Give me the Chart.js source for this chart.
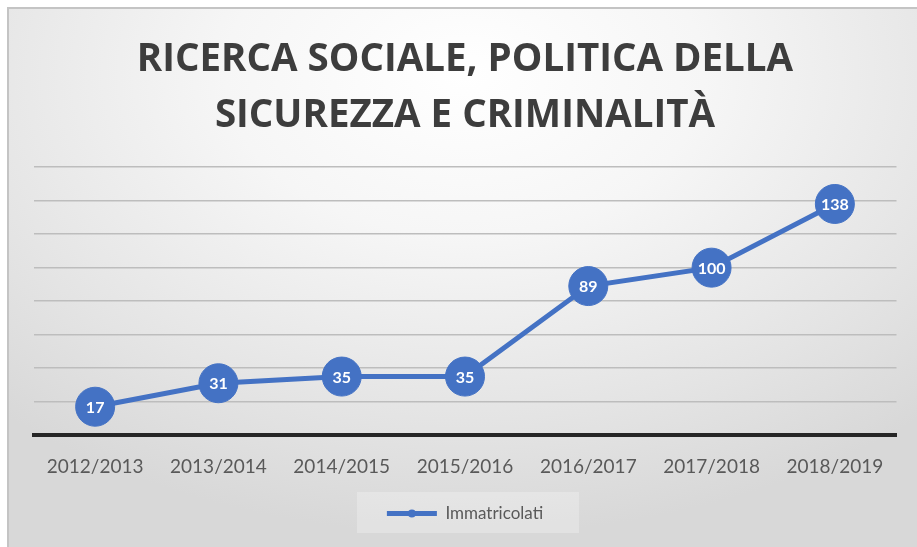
<!DOCTYPE html>
<html>
<head>
<meta charset="utf-8">
<script src="https://cdn.jsdelivr.net/npm/chart.js@4"></script>
<style>
  html, body { margin: 0; padding: 0; background: #ffffff; }
  #wrap { position: relative; width: 917px; height: 547px; overflow: hidden; }
  #panel {
    position: absolute; left: 7px; top: 7px; width: 912px; height: 542px;
    border-top: 2px solid #c4c4c4; border-left: 2px solid #c4c4c4;
    background: radial-gradient(ellipse 75% 85% at 50% 12%, #ffffff 0%, #f6f6f6 35%, #e4e4e4 75%, #d8d8d8 100%);
  }
  #legendBox {
    position: absolute; left: 357px; top: 492px; width: 222px; height: 41px;
    background: rgba(255,255,255,0.25);
  }
  canvas { position: absolute; left: 0; top: 0; }
</style>
</head>
<body>
<div id="wrap">
  <div id="panel"></div>
  <div id="legendBox"></div>
  <canvas id="c" width="917" height="547"></canvas>
</div>
<script>
// Enrolled students per academic year
const categories = ['2012/2013', '2013/2014', '2014/2015', '2015/2016', '2016/2017', '2017/2018', '2018/2019'];
const immatricolati = [17, 31, 35, 35, 89, 100, 138];
const titleLines = ['RICERCA SOCIALE, POLITICA DELLA', 'SICUREZZA E CRIMINALITÀ'];
const seriesName = 'Immatricolati';

const BLUE = '#4472C4';

// White value labels centred inside each marker
const valueLabels = {
  id: 'valueLabels',
  afterDatasetsDraw(chart) {
    const ctx = chart.ctx;
    const meta = chart.getDatasetMeta(0);
    ctx.save();
    ctx.font = 'bold 16px Lato, sans-serif';
    ctx.fillStyle = '#ffffff';
    ctx.textAlign = 'center';
    ctx.textBaseline = 'middle';
    meta.data.forEach((pt, i) => {
      ctx.fillText(String(chart.data.datasets[0].data[i]), pt.x, pt.y + 1);
    });
    ctx.restore();
  }
};

// Small marker in the middle of the legend line sample
const legendMarker = {
  id: 'legendMarker',
  afterDraw(chart) {
    const lg = chart.legend;
    if (!lg || !lg.legendHitBoxes || !lg.legendHitBoxes.length) return;
    const hb = lg.legendHitBoxes[0];
    const bw = chart.options.plugins.legend.labels.boxWidth;
    const ctx = chart.ctx;
    ctx.save();
    ctx.fillStyle = BLUE;
    ctx.beginPath();
    ctx.arc(hb.left + bw / 2, hb.top + hb.height / 2, 4, 0, Math.PI * 2);
    ctx.fill();
    ctx.restore();
  }
};

new Chart(document.getElementById('c'), {
  type: 'line',
  data: {
    labels: categories,
    datasets: [{
      label: seriesName,
      data: immatricolati,
      borderColor: BLUE,
      backgroundColor: BLUE,
      borderWidth: 5,
      pointRadius: 19.5,
      pointHoverRadius: 19.5,
      pointBackgroundColor: BLUE,
      pointBorderColor: BLUE,
      pointBorderWidth: 1,
      tension: 0
    }]
  },
  options: {
    responsive: false,
    animation: false,
    events: [],
    layout: { padding: { left: 33.5, right: 20.5, top: 8, bottom: 15 } },
    scales: {
      x: {
        offset: true,
        grid: { display: false, drawTicks: false },
        border: { display: true, color: '#262626', width: 4 },
        ticks: {
          color: '#595959',
          font: { family: 'Lato, sans-serif', size: 19 },
          padding: 20,
          maxRotation: 0,
          autoSkip: false
        }
      },
      y: {
        min: 0,
        max: 160,
        ticks: { display: false, stepSize: 20 },
        grid: { color: '#bdbdbd', lineWidth: 1.5, drawTicks: false },
        border: { display: false }
      }
    },
    plugins: {
      title: {
        display: true,
        text: titleLines,
        color: '#3d3d3d',
        font: { family: '"Open Sans", sans-serif', size: 38.5, weight: 'bold', lineHeight: 1.43 },
        padding: { top: 25, bottom: 24 }
      },
      legend: {
        display: true,
        position: 'bottom',
        labels: {
          color: '#595959',
          font: { family: 'Lato, sans-serif', size: 17 },
          boxWidth: 50,
          boxHeight: 5,
          padding: 7,
          generateLabels(chart) {
            return Chart.defaults.plugins.legend.labels.generateLabels(chart).map(it => {
              it.lineWidth = 0;
              it.fillStyle = BLUE;
              return it;
            });
          }
        }
      },
      tooltip: { enabled: false }
    }
  },
  plugins: [valueLabels, legendMarker]
});
</script>
</body>
</html>
